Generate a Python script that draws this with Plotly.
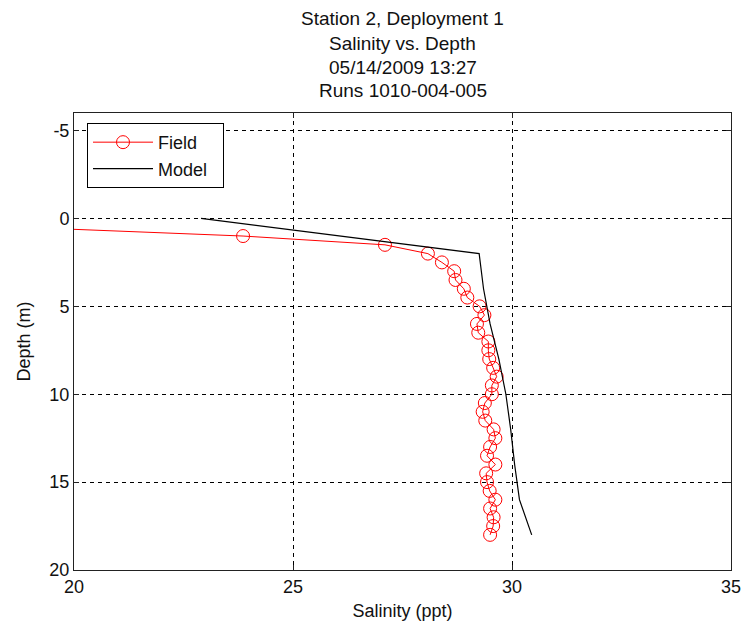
import plotly.graph_objects as go

# Field observations
field_depth = [0.5, 1.0, 1.5, 2.0, 2.5, 3.0, 3.5, 4.0, 4.5, 5.0, 5.5, 6.0, 6.5, 7.0, 7.5, 8.0,
               8.5, 9.0, 9.5, 10.0, 10.5, 11.0, 11.5, 12.0, 12.5, 13.0, 13.5, 14.0, 14.5,
               15.0, 15.5, 16.0, 16.5, 17.0, 17.5, 18.0]
field_salinity = [18.8, 23.86, 27.1, 28.08, 28.4, 28.68, 28.71, 28.9, 28.98, 29.26, 29.37, 29.2,
                  29.23, 29.46, 29.46, 29.48, 29.57, 29.65, 29.54, 29.54, 29.38, 29.33, 29.39,
                  29.58, 29.62, 29.5, 29.43, 29.62, 29.41, 29.43, 29.49, 29.62, 29.5, 29.58,
                  29.57, 29.5]

# Model profile
model_depth = [0, 2, 4, 6, 8, 10, 12, 14, 16, 18]
model_salinity = [22.9, 29.25, 29.35, 29.5, 29.7, 29.86, 29.97, 30.06, 30.17, 30.45]

x_ticks = [20, 25, 30, 35]
x_tick_labels = ["20", "25", "30", "35"]
y_ticks = [-5, 0, 5, 10, 15, 20]
y_tick_labels = ["-5", "0", "5", "10", "15", "20"]

title_lines = ["Station 2, Deployment 1", "Salinity vs. Depth", "05/14/2009 13:27",
               "Runs 1010-004-005"]

FONT = "Liberation Sans, Arial, sans-serif"

fig = go.Figure()
fig.add_trace(go.Scatter(
    x=field_salinity, y=field_depth, name="Field", mode="lines+markers",
    line=dict(color="#ff0000", width=1),
    marker=dict(symbol="circle-open", size=13, color="#ff0000", line=dict(width=1)),
))
fig.add_trace(go.Scatter(
    x=model_salinity, y=model_depth, name="Model\u00a0\u00a0", mode="lines",
    line=dict(color="#000000", width=1.2),
))

axis_common = dict(
    showline=True, linecolor="#222222", linewidth=1, mirror="allticks",
    ticks="inside", ticklen=5, tickcolor="#222222", ticklabelstandoff=0,
    showgrid=True, gridcolor="#000000", gridwidth=1, griddash="4px,4px",
    zeroline=False, tickfont=dict(family=FONT, size=18, color="#111111"),
)

# page body has an 8px margin; compensate so the plot area sits at 74..731 x 113..572
FIG_W, FIG_H = 745, 621
M_L, M_R, M_T, M_B = 66, 22, 105, 57
plot_h = FIG_H - M_T - M_B

# title lines as separate annotations, centred above the plot
title_line_centres = [10, 35, 59, 82]  # px from top of figure
annotations = [
    dict(text=t, xref="paper", yref="paper", x=0.5, y=1 + (M_T - cy) / plot_h,
         xanchor="center", yanchor="middle", showarrow=False,
         font=dict(family=FONT, size=19, color="#111111"))
    for t, cy in zip(title_lines, title_line_centres)
]

fig.update_layout(
    width=FIG_W, height=FIG_H,
    margin=dict(l=M_L, r=M_R, t=M_T, b=M_B),
    paper_bgcolor="white", plot_bgcolor="white",
    font=dict(family=FONT, color="#111111"),
    annotations=annotations,
    xaxis=dict(range=[20, 35], tickvals=x_ticks, ticktext=x_tick_labels,
               title=dict(text="Salinity (ppt)", font=dict(family=FONT, size=18), standoff=8),
               **axis_common),
    yaxis=dict(range=[20, -6], tickvals=y_ticks, ticktext=y_tick_labels,
               title=dict(text="Depth (m)", font=dict(family=FONT, size=18), standoff=14),
               **axis_common),
    legend=dict(
        x=(87 - 74) / 657, y=(572 - 123) / 459, xanchor="left", yanchor="top",
        bgcolor="white", bordercolor="#000000", borderwidth=1,
        font=dict(family=FONT, size=18, color="#111111"),
        itemwidth=60, tracegroupgap=0,
    ),
    showlegend=True,
)

fig.write_html("out.html")
